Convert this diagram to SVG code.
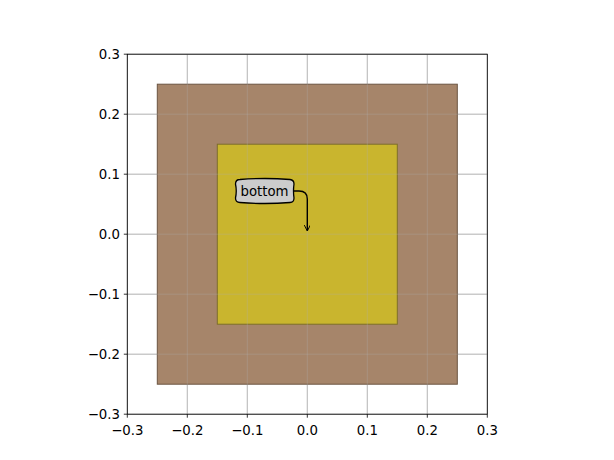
<svg xmlns="http://www.w3.org/2000/svg" width="614" height="460" viewBox="0 0 614 460">
<defs>
<style>
.grid{stroke:#b0b0b0;stroke-width:0.8;fill:none}
.tick{stroke:#000;stroke-width:0.8}
.lbl{font-family:"DejaVu Sans",sans-serif;font-size:13.3px;fill:#000}
</style>
<path id="gl" d="M127.3,54.2V414.2M187.3,54.2V414.2M247.3,54.2V414.2M307.3,54.2V414.2M367.3,54.2V414.2M427.3,54.2V414.2M487.3,54.2V414.2M127.3,54.2H487.3M127.3,114.2H487.3M127.3,174.2H487.3M127.3,234.2H487.3M127.3,294.2H487.3M127.3,354.2H487.3M127.3,414.2H487.3"/>
<marker id="ah" viewBox="0 0 10 10" refX="9" refY="5" markerWidth="6" markerHeight="6" orient="auto" markerUnits="userSpaceOnUse">
<path d="M0,0 L10,5 L0,10" fill="none" stroke="#000" stroke-width="1.6"/>
</marker>
</defs>
<rect width="614" height="460" fill="#fff"/>
<g id="grid">
<use href="#gl" class="grid"/>
</g>
<g id="outer">
<rect x="157.3" y="84.2" width="300" height="300" fill="#a6856a" stroke="#6b5442" stroke-width="1"/>
</g>
<g id="inner">
<rect x="217.3" y="144.2" width="180" height="180" fill="#c9b52e" stroke="#7d6e2c" stroke-width="1"/>
</g>
<g id="grid-over" opacity="0.4">
<use href="#gl" class="grid"/>
</g>
<g id="frame">
<rect x="127.3" y="54.2" width="360" height="360" fill="none" stroke="#000" stroke-width="0.8"/>
<path class="tick" d="M127.3,414.2v3.5M187.3,414.2v3.5M247.3,414.2v3.5M307.3,414.2v3.5M367.3,414.2v3.5M427.3,414.2v3.5M487.3,414.2v3.5M127.3,54.2h-3.5M127.3,114.2h-3.5M127.3,174.2h-3.5M127.3,234.2h-3.5M127.3,294.2h-3.5M127.3,354.2h-3.5M127.3,414.2h-3.5"/>
</g>
<g id="xlabels" class="lbl" text-anchor="middle">
<text x="127.3" y="435">−0.3</text>
<text x="187.3" y="435">−0.2</text>
<text x="247.3" y="435">−0.1</text>
<text x="307.3" y="435">0.0</text>
<text x="367.3" y="435">0.1</text>
<text x="427.3" y="435">0.2</text>
<text x="487.3" y="435">0.3</text>
</g>
<g id="ylabels" class="lbl" text-anchor="end">
<text x="120" y="59">0.3</text>
<text x="120" y="119">0.2</text>
<text x="120" y="179">0.1</text>
<text x="120" y="239">0.0</text>
<text x="120" y="299">−0.1</text>
<text x="120" y="359">−0.2</text>
<text x="120" y="419">−0.3</text>
</g>
<g id="connectors">
<path d="M294,191 H299 Q307.3,191 307.3,199 V230.5" fill="none" stroke="#000" stroke-width="1.4" marker-end="url(#ah)"/>
</g>
<g id="annotation">
<path d="M240,179.5 Q265,177.5 290,179.5 Q294,180 294,184 Q293,191 294,198 Q294,202.5 290,202.5 Q265,204.5 240,202.5 Q235.5,202.5 235.5,198 Q237,191 235.5,184 Q235.5,179.5 240,179.5 Z" fill="#cccccc" stroke="#000" stroke-width="1.3"/>
<text class="lbl" x="264.5" y="195.5" text-anchor="middle">bottom</text>
</g>
</svg>
